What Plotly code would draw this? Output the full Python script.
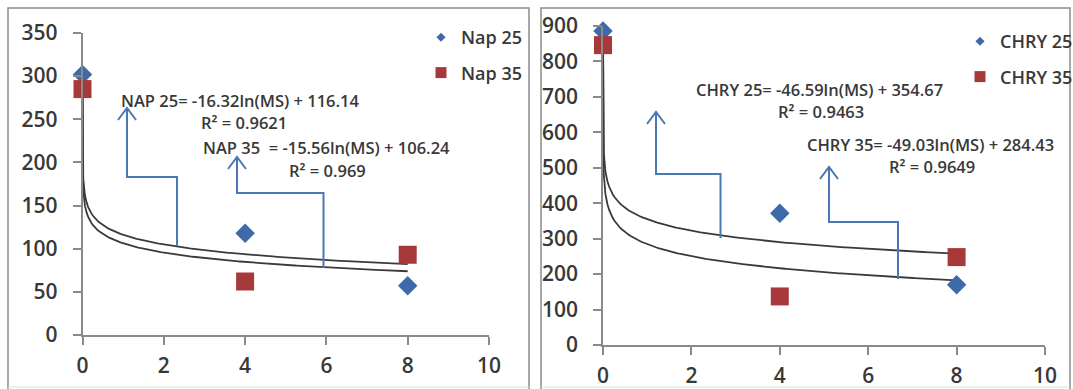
import numpy as np
import plotly.graph_objects as go

# ---------------- data ----------------
ms = [0, 4, 8]
nap25 = [302, 118, 57]
nap35 = [285, 62, 93]
chry25 = [886, 372, 170]
chry35 = [846, 137, 248]

# log-trend coefficients printed on the chart: y = a*ln(MS) + b
nap25_fit = (-16.32, 116.14, 0.9621)
nap35_fit = (-15.56, 106.24, 0.969)
chry25_fit = (-46.59, 354.67, 0.9463)
chry35_fit = (-49.03, 284.43, 0.9649)

x_ticks = [0, 2, 4, 6, 8, 10]
left_yticks = [0, 50, 100, 150, 200, 250, 300, 350]
right_yticks = [0, 100, 200, 300, 400, 500, 600, 700, 800, 900]

# ---------------- layout helpers ----------------
W, H = 1073, 389
def px(x):
    return x / W
def py(y):
    return 1 - y / H

BLUE = "#3E69AA"
RED = "#A8393A"
ARROW = "#4A78B5"
TXT = "#383838"
AXC = "#8a8a8a"
FONT = "Open Sans"

fig = go.Figure()

def trend(a, b):
    xs = np.concatenate([np.logspace(-5, -1, 120), np.linspace(0.1, 8, 200)])
    return xs, a * np.log(xs) + b

for (a, b, _r) in (nap25_fit, nap35_fit):
    tx, ty = trend(a, b)
    fig.add_trace(go.Scatter(x=tx, y=ty, mode="lines", line=dict(color="#3a3a3a", width=1.8),
                             showlegend=False, hoverinfo="skip", xaxis="x", yaxis="y"))
for (a, b, _r) in (chry25_fit, chry35_fit):
    tx, ty = trend(a, b)
    fig.add_trace(go.Scatter(x=tx, y=ty, mode="lines", line=dict(color="#3a3a3a", width=1.8),
                             showlegend=False, hoverinfo="skip", xaxis="x2", yaxis="y2"))

def pts(y, name, sym, col, size, xa, ya, leg):
    fig.add_trace(go.Scatter(x=ms, y=y, mode="markers", name=name, cliponaxis=False,
                             marker=dict(symbol=sym, color=col, size=size, line=dict(width=0)),
                             showlegend=False, xaxis=xa, yaxis=ya))
    fig.add_trace(go.Scatter(x=[None], y=[None], mode="markers", name=name,
                             marker=dict(symbol=sym, color=col, size=7 if sym == "diamond" else 11),
                             legend=leg, legendgroup=name, xaxis=xa, yaxis=ya))

pts(nap25, "Nap 25", "diamond", BLUE, 15, "x", "y", "legend")
pts(nap35, "Nap 35", "square", RED, 18, "x", "y", "legend")
pts(chry25, "CHRY 25", "diamond", BLUE, 15, "x2", "y2", "legend2")
pts(chry35, "CHRY 35", "square", RED, 18, "x2", "y2", "legend2")

axis_common = dict(showgrid=False, zeroline=False, showline=True, linecolor=AXC, linewidth=1.5,
                   ticks="outside", ticklen=8, tickcolor=AXC, tickwidth=1.5, automargin=False,
                   tickfont=dict(family=FONT, size=21, color=TXT, weight=600))
xa = dict(axis_common, ticklabelstandoff=3)
ya = dict(axis_common, ticklabelstandoff=11)

legfont = dict(family=FONT, size=18, color=TXT, weight=600)
fig.update_layout(
    template="none",
    width=W, height=H, margin=dict(l=0, r=0, t=0, b=0, pad=0, autoexpand=False),
    paper_bgcolor="white", plot_bgcolor="white",
    xaxis=dict(domain=[px(82.5), px(489)], range=[0, 10], tickvals=x_ticks, anchor="y", **xa),
    yaxis=dict(domain=[py(335), py(33)], range=[0, 350], tickvals=left_yticks, anchor="x", **ya),
    xaxis2=dict(domain=[px(603), px(1045)], range=[0, 10], tickvals=x_ticks, anchor="y2", **xa),
    yaxis2=dict(domain=[py(345), py(26)], range=[0, 900], tickvals=right_yticks, anchor="x2", **ya),
    legend=dict(x=px(421), y=py(19), xanchor="left", yanchor="top", bgcolor="rgba(0,0,0,0)",
                font=legfont, tracegroupgap=9, traceorder="grouped", borderwidth=0),
    legend2=dict(x=px(960), y=py(23), xanchor="left", yanchor="top", bgcolor="rgba(0,0,0,0)",
                 font=legfont, tracegroupgap=9, traceorder="grouped", borderwidth=0),
)

shapes = []
for (x0, x1) in ((8, 529), (541, 1070)):
    shapes.append(dict(type="path", xref="paper", yref="paper",
                       path=f"M{px(x0)},{py(389)} L{px(x0)},{py(8)} L{px(x1)},{py(8)} L{px(x1)},{py(389)}",
                       line=dict(color="#8c8c8c", width=1.5)))
    shapes.append(dict(type="line", xref="paper", yref="paper", x0=px(x0), x1=px(x1), y0=py(387), y1=py(387),
                       line=dict(color="#dcdcdc", width=1)))

arrows = [
    # (x_curve, y_curve, y_knee, x_up, y_tip) in pixels
    (177, 246, 177, 127, 108),
    (323.5, 268, 193, 237, 157),
    (720.5, 238, 174, 656, 112),
    (898, 279, 222, 829, 167),
]
for (xc, yc, yk, xu, yt) in arrows:
    shapes.append(dict(type="path", xref="paper", yref="paper",
                       path=f"M{px(xc)},{py(yc)} L{px(xc)},{py(yk)} L{px(xu)},{py(yk)} L{px(xu)},{py(yt)}",
                       line=dict(color=ARROW, width=2)))
    shapes.append(dict(type="path", xref="paper", yref="paper",
                       path=f"M{px(xu-9)},{py(yt+12)} L{px(xu)},{py(yt)} L{px(xu+9)},{py(yt+12)}",
                       line=dict(color=ARROW, width=2)))
fig.update_layout(shapes=shapes)

def eq(name, fit, sep="= "):
    a, b, _ = fit
    return f"{name}{sep}{a:.2f}ln(MS) + {b:.2f}"

annots = [
    (eq("NAP 25", nap25_fit), 120, 100),
    (f"R² = {nap25_fit[2]}", 200, 122),
    (eq("NAP 35", nap35_fit, "  = "), 202, 147),
    (f"R² = {nap35_fit[2]}", 288, 170),
    (eq("CHRY 25", chry25_fit), 695, 89),
    (f"R² = {chry25_fit[2]}", 777, 112),
    (eq("CHRY 35", chry35_fit), 806, 144),
    (f"R² = {chry35_fit[2]}", 888, 166),
]
for (t, x, y) in annots:
    fig.add_annotation(text=t, xref="paper", yref="paper", x=px(x), y=py(y), xanchor="left",
                       yanchor="middle", showarrow=False, borderpad=0,
                       font=dict(family=FONT, size=16.5, color=TXT, weight=600))

fig.write_html("out.html", config={"displayModeBar": False},
               post_script="document.body.style.margin='0';document.body.style.padding='0';"
                           "document.documentElement.style.overflow='hidden';")
